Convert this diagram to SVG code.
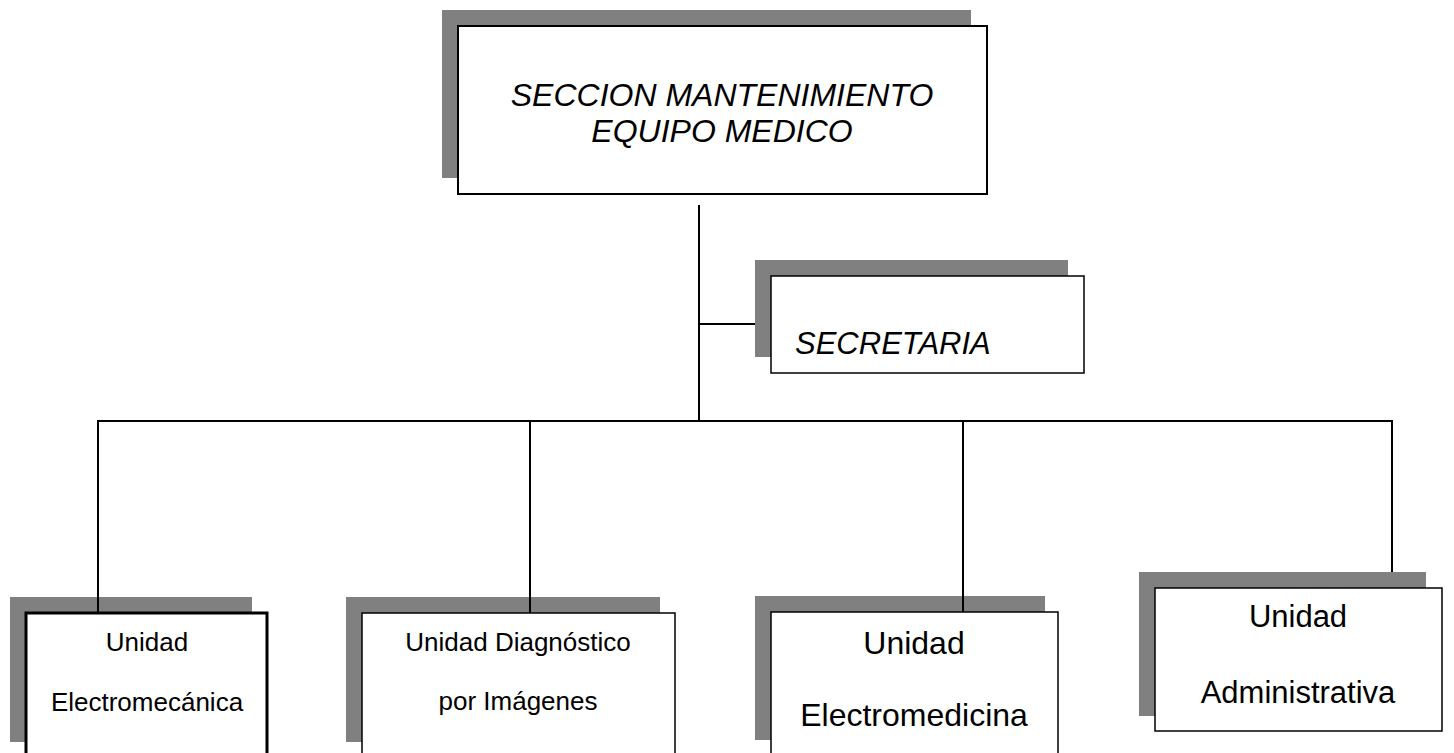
<svg xmlns="http://www.w3.org/2000/svg" width="1454" height="753" viewBox="0 0 1454 753">
<style>
.sh{fill:#808080;stroke:none}
.bx{fill:#ffffff;stroke:#000000;stroke-width:2}
.t{font-family:"Liberation Sans",Arial,sans-serif;fill:#000000}
.it{font-style:italic}
.c{text-anchor:middle}
.ln{stroke:#000000;stroke-width:2;fill:none}
</style>
<rect width="1454" height="753" fill="#ffffff"/>
<g id="node-seccion">
<rect class="sh" x="442" y="10" width="529" height="168"/>
<rect class="bx" x="458" y="26" width="529" height="168"/>
<text class="t it c" x="722" y="106" font-size="32">SECCION MANTENIMIENTO</text>
<text class="t it c" x="722" y="142" font-size="32">EQUIPO MEDICO</text>
</g>
<g id="node-secretaria">
<rect class="sh" x="755" y="260" width="313" height="97"/>
<rect class="bx" x="771" y="276" width="313" height="97" style="stroke-width:1.5"/>
<text class="t it" x="795" y="354" font-size="31">SECRETARIA</text>
</g>
<g id="node-electromecanica">
<rect class="sh" x="10" y="597" width="242" height="145"/>
<rect class="bx" x="26" y="613" width="241" height="150" style="stroke-width:3"/>
<text class="t c" x="147" y="651" font-size="26">Unidad</text>
<text class="t c" x="147" y="711" font-size="26">Electromecánica</text>
</g>
<g id="node-diagnostico">
<rect class="sh" x="346" y="597" width="314" height="145"/>
<rect class="bx" x="362" y="613" width="313" height="150" style="stroke-width:1.5"/>
<text class="t c" x="518" y="651" font-size="26">Unidad Diagnóstico</text>
<text class="t c" x="518" y="710" font-size="26">por Imágenes</text>
</g>
<g id="node-electromedicina">
<rect class="sh" x="755" y="596" width="290" height="144"/>
<rect class="bx" x="771" y="612" width="287" height="150" style="stroke-width:1.5"/>
<text class="t c" x="914" y="654" font-size="32">Unidad</text>
<text class="t c" x="914" y="726" font-size="32">Electromedicina</text>
</g>
<g id="node-administrativa">
<rect class="sh" x="1139" y="572" width="287" height="144"/>
<rect class="bx" x="1155" y="588" width="287" height="143" style="stroke-width:1.5"/>
<text class="t c" x="1298" y="627" font-size="31">Unidad</text>
<text class="t c" x="1298" y="703" font-size="31">Administrativa</text>
</g>
<g id="connectors">
<line class="ln" x1="699" y1="205" x2="699" y2="421"/>
<line class="ln" x1="699" y1="324" x2="755" y2="324"/>
<line class="ln" x1="97" y1="421" x2="1393" y2="421"/>
<line class="ln" x1="98" y1="421" x2="98" y2="612"/>
<line class="ln" x1="530" y1="421" x2="530" y2="613"/>
<line class="ln" x1="963" y1="421" x2="963" y2="612"/>
<line class="ln" x1="1392" y1="421" x2="1392" y2="572"/>
</g>
</svg>
